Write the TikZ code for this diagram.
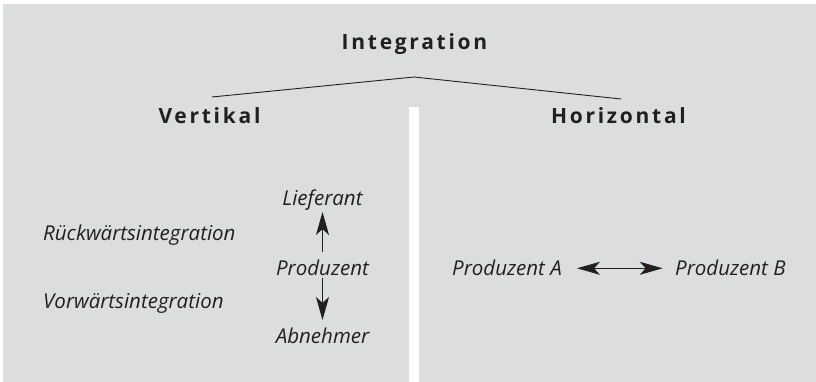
\documentclass[tikz,border=0pt]{standalone}
\usepackage{fontspec}
\setmainfont{Open Sans}
\newfontfamily\spacedbold[LetterSpace=13]{Open Sans Bold}
\usetikzlibrary{arrows.meta}
\definecolor{bggray}{RGB}{220,221,223}
\definecolor{ink}{RGB}{35,31,32}
\begin{document}
\begin{tikzpicture}[x=1pt,y=-1pt,
  head/.style={font=\spacedbold\fontsize{21}{25}\selectfont, text=ink, inner sep=0pt, anchor=base},
  lbl/.style={font=\itshape\fontsize{20.5}{25}\selectfont, text=ink, inner sep=0pt, anchor=base},
  lbll/.style={lbl, anchor=base west},
  tree/.style={draw=ink, line width=0.9pt},
  tip/.style={Stealth[length=23pt,width=13pt,inset=6pt]},
  arr/.style={draw=ink, line width=0.9pt, -{Stealth[length=23pt,width=13pt,inset=6pt]}},
  darr/.style={draw=ink, line width=0.9pt, {Stealth[length=23pt,width=13pt,inset=6pt]}-{Stealth[length=23pt,width=13pt,inset=6pt]}}]
\useasboundingbox (0,0) rectangle (816,382);
\fill[bggray] (3,4) rectangle (816,382);
\fill[white] (408.5,107) rectangle (419,382);
% headings
\node[head] (int) at (414.5,50) {Integration};
\node[head] (vert) at (209.5,124) {Vertikal};
\node[head] (hor) at (618.5,124) {Horizontal};
\coordinate (apex) at (414,77);
\coordinate (lend) at (212,97);
\coordinate (rend) at (621,99);
\draw[tree] (lend) -- (apex) -- (rend);
% vertical
\node[lbl] (lief) at (322.5,205) {Lieferant};
\node[lbl] (prod) at (322.5,275) {Produzent};
\node[lbl] (abn) at (322.5,343) {Abnehmer};
\node[lbll] (rueck) at (43,240) {Rückwärtsintegration};
\node[lbll] (vorw) at (43,308) {Vorwärtsintegration};
\draw[arr] ([yshift=23pt]prod.base) -- ([yshift=-7pt]lief.base);
\draw[arr] ([yshift=-3pt]prod.base) -- ([yshift=23pt]abn.base);
% horizontal
\node[lbll] (pa) at (452,275) {Produzent A};
\node[lbll] (pb) at (675,275) {Produzent B};
\draw[darr] ([xshift=15pt,yshift=6.7pt]pa.base east) -- ([xshift=-12.3pt,yshift=6.7pt]pb.base west);
\end{tikzpicture}
\end{document}
